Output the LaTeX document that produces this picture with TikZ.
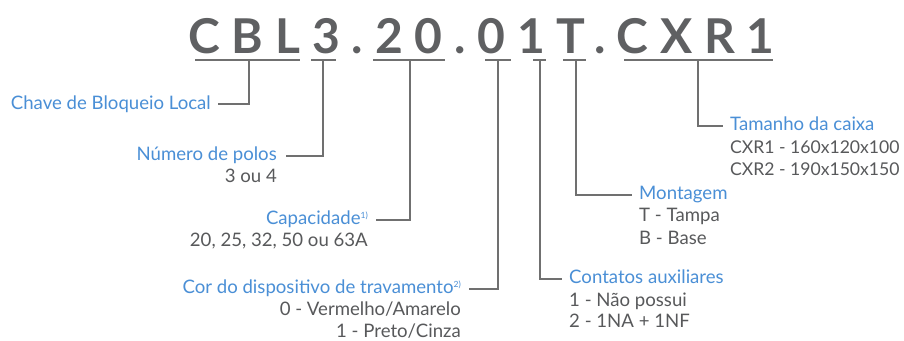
\documentclass[tikz,border=0pt]{standalone}
\usepackage{fontspec}
\setmainfont{Lato}
\newfontfamily\titlefont[LetterSpace=24.6]{Lato}
\definecolor{lblue}{HTML}{4A8FD6}
\definecolor{tgray}{HTML}{58595B}
\definecolor{hgray}{HTML}{5F6062}
\definecolor{lgray}{HTML}{707070}
\begin{document}
\begin{tikzpicture}[x=1pt,y=-1pt,
  lab/.style={inner sep=0pt,text=lblue,font=\fontsize{18.6}{21}\selectfont},
  val/.style={inner sep=0pt,text=tgray,font=\fontsize{18.6}{21}\selectfont},
  valnarrow/.style={val,font=\fontsize{17.6}{21}\selectfont},
  uline/.style={draw=lgray,line width=1.2pt},
  conn/.style={draw=lgray,line width=1.4pt}]
\useasboundingbox[fill=white] (0,0) rectangle (904,340);
\node[inner sep=0pt,anchor=base,text=hgray,font=\titlefont\bfseries\fontsize{48}{50}\selectfont] (code) at (481.5,53) {CBL3.20.01T.CXR1};
% underlines
\draw[uline] (195,60) -- (300,60);
\draw[uline] (311,60) -- (336,60);
\draw[uline] (373,60) -- (445,60);
\draw[uline] (485,60) -- (511,60);
\draw[uline] (533,60) -- (546,60);
\draw[uline] (563,60) -- (586,60);
\draw[uline] (624,60) -- (773,60);
% tick coordinates
\coordinate (t1) at (249,60);
\coordinate (t2) at (323,60);
\coordinate (t3) at (410,60);
\coordinate (t4) at (498,60);
\coordinate (t5) at (540,60);
\coordinate (t6) at (576,60);
\coordinate (t7) at (698,60);
\coordinate (e1) at (218,104);
\coordinate (e2) at (286,156);
\coordinate (e3) at (376,220);
\coordinate (e4) at (469,289);
\coordinate (e5) at (562,279);
\coordinate (e6) at (632,195);
\coordinate (e7) at (723,126);
% labels
\node[lab,anchor=base east] (l1) at (211,109.3) {Chave de Bloqueio Local};
\node[lab,anchor=base east] (l2) at (277,160) {Número de polos};
\node[val,anchor=base east] (v2) at (277,182.7) {3 ou 4};
\node[lab,anchor=base east] (l3) at (368,224.3) {Capacidade\raisebox{5.5pt}{\fontsize{8.5}{8.5}\selectfont 1)}};
\node[val,anchor=base east] (v3) at (368,246.7) {20, 25, 32, 50 ou 63A};
\node[lab,anchor=base east] (l4) at (461,293.3) {Cor do dispositivo de travamento\raisebox{5.5pt}{\fontsize{8.5}{8.5}\selectfont 2)}};
\node[val,anchor=base east] (v4a) at (461,315.5) {0 - Vermelho/Amarelo};
\node[val,anchor=base east] (v4b) at (461,337.2) {1 - Preto/Cinza};
\node[lab,anchor=base west] (l5) at (569,283.3) {Contatos auxiliares};
\node[val,anchor=base west] (v5a) at (569,306) {1 - Não possui};
\node[val,anchor=base west] (v5b) at (569,327.7) {2 - 1NA + 1NF};
\node[lab,anchor=base west] (l6) at (639,199.3) {Montagem};
\node[val,anchor=base west] (v6a) at (639,221.7) {T - Tampa};
\node[val,anchor=base west] (v6b) at (639,244.3) {B - Base};
\node[lab,anchor=base west] (l7) at (730,130) {Tamanho da caixa};
\node[valnarrow,anchor=base west] (v7a) at (730,153.3) {CXR1 - 160x120x100};
\node[valnarrow,anchor=base west] (v7b) at (730,175) {CXR2 - 190x150x150};
% connectors
\draw[conn] (t1) |- (e1);
\draw[conn] (t2) |- (e2);
\draw[conn] (t3) |- (e3);
\draw[conn] (t4) |- (e4);
\draw[conn] (t5) |- (e5);
\draw[conn] (t6) |- (e6);
\draw[conn] (t7) |- (e7);
\end{tikzpicture}
\end{document}
